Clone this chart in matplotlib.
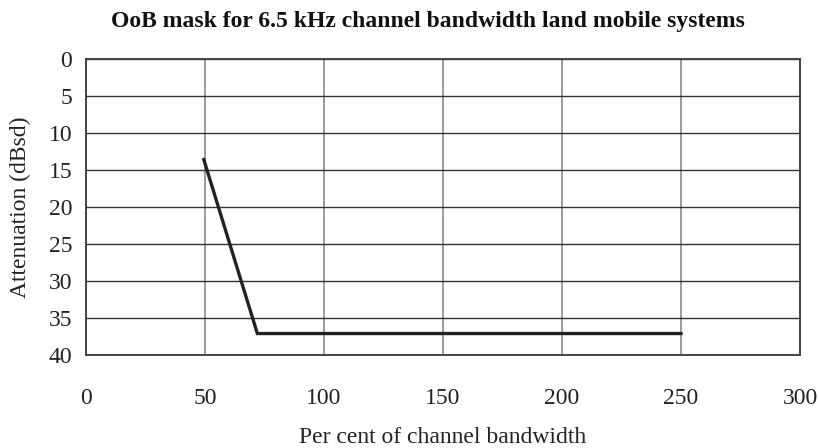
#!/usr/bin/env python3
"""OoB mask for 6.5 kHz channel bandwidth land mobile systems."""
import matplotlib; matplotlib.use("Agg")
import matplotlib.pyplot as plt

# mask breakpoints (per cent of channel bandwidth, attenuation dBsd)
pct = [49.5, 72, 250]
atten = [13.6, 37.1, 37.1]
xticks = [0, 50, 100, 150, 200, 250, 300]
yticks = [0, 5, 10, 15, 20, 25, 30, 35, 40]

plt.rcParams["font.family"] = ["Liberation Serif", "DejaVu Serif"]
FS = 17

fig = plt.figure(figsize=(8.2, 4.48), dpi=100)
ax = fig.add_axes([86/820, 1-355/448, 714/820, 296/448])

ax.plot(pct, atten, color="#222222", lw=2.4, solid_joinstyle="miter", zorder=3)

ax.set_xlim(0, 300); ax.set_ylim(40, 0)
ax.set_xticks(xticks); ax.set_yticks(yticks)
ax.tick_params(length=0, labelsize=FS, colors="#222222")
ax.tick_params(axis="x", pad=24)
ax.tick_params(axis="y", pad=10)
ax.xaxis.grid(True, color="#808080", lw=1.1)
ax.yaxis.grid(True, color="#333333", lw=1.0)
for s in ax.spines.values():
    s.set_color("#444444"); s.set_linewidth(1.4)

fig.text(443/820, 1-443/448, "Per cent of channel bandwidth", ha="center", va="baseline",
         fontsize=FS, color="#222222")
fig.text(20/820, 1-207/448, "Attenuation (dBsd)", ha="center", va="center", rotation=90,
         fontsize=FS, color="#222222")
fig.text(428/820, 1-21/448, "OoB mask for 6.5 kHz channel bandwidth land mobile systems",
         ha="center", va="center", fontsize=FS, fontweight="bold", color="#111111")

fig.savefig("out.png", dpi=100)
